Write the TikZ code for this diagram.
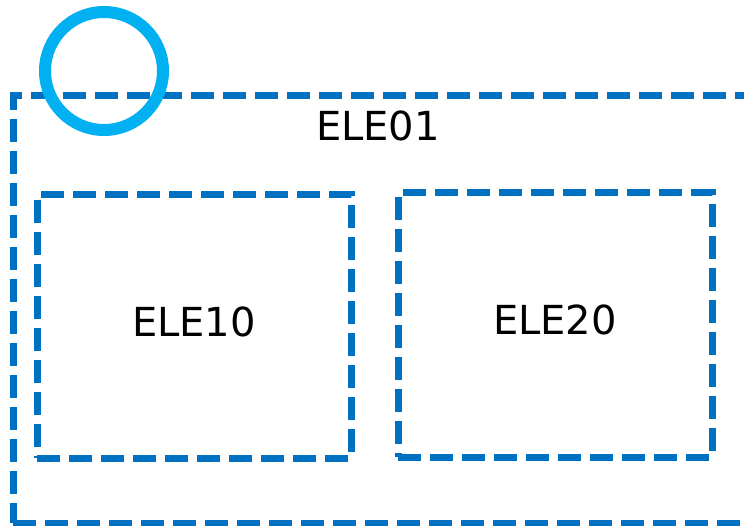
\documentclass[tikz,border=0pt]{standalone}
\usepackage{fontspec}
\setmainfont{DejaVu Sans}
\usetikzlibrary{positioning}
\definecolor{boxblue}{HTML}{0070C0}
\definecolor{ringcyan}{HTML}{00B0F0}

\begin{document}
\begin{tikzpicture}[x=1pt,y=-1pt,
                  element/.style={rectangle,draw=boxblue,line width=7pt,
                    dash pattern=on 23pt off 9pt,inner sep=0pt},
                  tag/.style={font=\fontsize{40}{48}\selectfont,text=black,inner sep=0pt},
                  ring/.style={circle,draw=ringcyan,line width=12pt,inner sep=0pt,
                    minimum size=118pt}
                  ]
                  \useasboundingbox (0,0) rectangle (744,526);

                  % outer element runs off the right edge
                  \node[element,minimum width=767pt,minimum height=427pt] (ele01) at (396.5,309.5) {};
                  \node[tag] (lbl01) at (378,126) {ELE01};

                  \node[element,minimum width=314pt,minimum height=263pt] (ele10) at (194,326.5) {};
                  \node[tag] (lbl10) at (194,322) {ELE10};

                  \node[element,minimum width=314pt,minimum height=264pt] (ele20) at (555,325) {};
                  \node[tag] (lbl20) at (555,320) {ELE20};

                  \node[ring] (marker) at (104,71) {};
                \end{tikzpicture}
\end{document}
